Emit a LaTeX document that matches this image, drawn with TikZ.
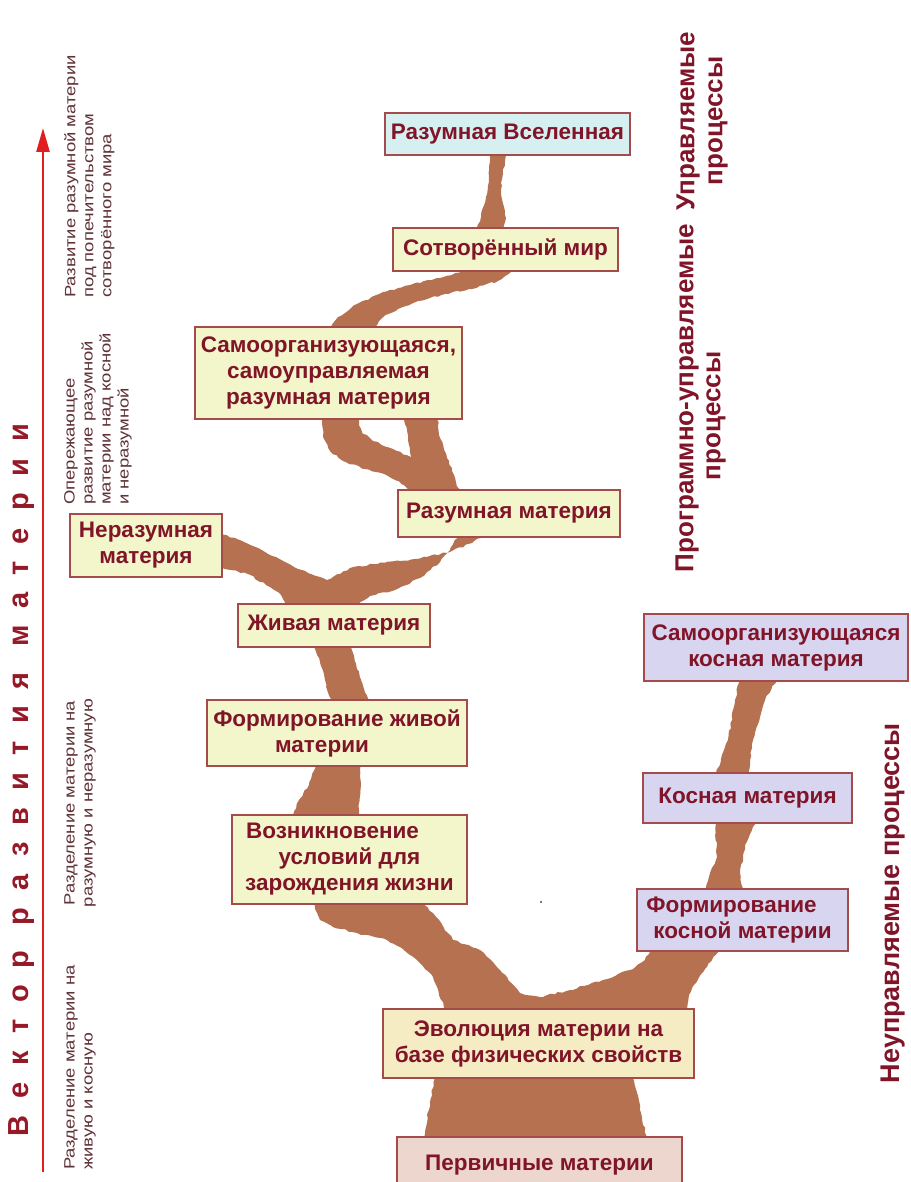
\documentclass[tikz,border=0pt]{standalone}
\usepackage{fontspec}
\setmainfont{Liberation Sans}
\newfontfamily\sidefont[FakeStretch=1.23]{Liberation Sans}
\newfontfamily\vecfont[LetterSpace=59]{Liberation Sans}
\usetikzlibrary{arrows.meta,decorations.pathmorphing}
\definecolor{trunk}{RGB}{181,113,80}
\definecolor{txt}{RGB}{128,20,40}
\definecolor{sidecol}{RGB}{95,50,55}
\definecolor{vec}{RGB}{150,25,40}
\definecolor{arrowred}{RGB}{225,30,30}
\definecolor{boxline}{RGB}{165,75,75}
\definecolor{greenbox}{RGB}{243,246,202}
\definecolor{cyanbox}{RGB}{214,240,242}
\definecolor{lavbox}{RGB}{216,213,240}
\definecolor{beigebox}{RGB}{246,236,196}
\definecolor{pinkbox}{RGB}{236,214,206}
\begin{document}
\begin{tikzpicture}[x=1pt,y=-1pt,
  trunkfill/.style={fill=trunk, draw=none, decorate,
    decoration={random steps, segment length=4pt, amplitude=0.9pt}},
  box/.style={draw=boxline, line width=1.3pt, fill=greenbox, text=txt,
    font=\bfseries\fontsize{22.5}{26}\selectfont, align=center, inner sep=0pt},
  side/.style={rotate=90, text=sidecol, inner sep=0pt,
    font=\sidefont\fontsize{15}{18}\selectfont},
  rlabel/.style={rotate=90, text=txt, inner sep=0pt, align=center,
    font=\bfseries\fontsize{26}{28}\selectfont},
  vecarrow/.style={draw=arrowred, line width=2.6pt,
    -{Triangle[length=24pt,width=13pt]}}]
\useasboundingbox (0,0) rectangle (910,1182);
\clip (0,0) rectangle (910,1182);
\fill[white] (0,0) rectangle (910,1182);

% ---------- trunk ----------
% Universe -> created world
\fill[trunkfill] (490,150) -- (489,177) -- (486,197) -- (481,217) -- (476,232)
  -- (502,232) -- (506,218) -- (504,207) -- (501,190) -- (503,173) -- (507,150) -- cycle;
% created world -> self-organising
\fill[trunkfill] (474,268) -- (440,278) -- (410,285) -- (383,292) -- (357,304)
  -- (338,317) -- (328,330) -- (372,330) -- (382,318) -- (398,309) -- (418,301)
  -- (445,294) -- (472,289) -- (498,281) -- (518,268) -- cycle;
% loop under self-organising
\fill[trunkfill] (322,416) -- (323,437) -- (330,451) -- (343,461) -- (365,469)
  -- (388,476) -- (404,485) -- (410,493) -- (448,493) -- (434,474) -- (414,459)
  -- (393,449) -- (373,441) -- (362,432) -- (357,416) -- cycle;
\fill[trunkfill] (404,416) -- (408,440) -- (411,458) -- (417,474) -- (421,493)
  -- (460,493) -- (454,475) -- (447,458) -- (440,438) -- (437,416) -- cycle;
% fork above living matter
\fill[trunkfill] (219,533) -- (240,540) -- (265,552) -- (287,563) -- (308,573)
  -- (327,580) -- (333,577) -- (350,568) -- (373,564) -- (400,561) -- (427,557)
  -- (452,551) -- (472,543) -- (487,534) -- (459,534) -- (450,550) -- (440,562)
  -- (420,578) -- (395,590) -- (370,596) -- (355,607) -- (287,607) -- (281,595)
  -- (270,587) -- (248,574) -- (219,567) -- cycle;
% living -> forming living
\fill[trunkfill] (314,644) -- (325,680) -- (331,703) -- (370,703) -- (361,680)
  -- (350,644) -- cycle;
% forming living -> conditions
\fill[trunkfill] (316,763) -- (309,785) -- (299,800) -- (292,818) -- (358,818)
  -- (361,785) -- (360,763) -- cycle;
% conditions -> evolution, and the inert branch
\fill[trunkfill] (313,901) -- (320,920) -- (333,927) -- (357,933) -- (387,940)
  -- (400,947) -- (417,960) -- (433,977) -- (446,1012) -- (687,1012)
  -- (689,995) -- (694,985) -- (707,967) -- (721,947) -- (652,947) -- (645,960)
  -- (630,970) -- (603,980) -- (570,990) -- (540,997) -- (520,993)
  -- (500,970) -- (480,950) -- (453,940) -- (433,913) -- (421,901) -- cycle;
% evolution -> primary
\fill[trunkfill] (435,1075) -- (423,1140) -- (647,1140) -- (633,1075) -- cycle;
% inert matter branch
\fill[trunkfill] (715,820) -- (717,857) -- (710,873) -- (705,892) -- (743,892)
  -- (740,873) -- (743,857) -- (745,845) -- (757,820) -- cycle;
\fill[trunkfill] (740,678) -- (735,700) -- (728,740) -- (715,776) -- (748,776)
  -- (753,740) -- (765,700) -- (778,678) -- cycle;
\fill[black!70] (541,902) circle (1.2pt);

% ---------- boxes ----------
\node[box, fill=cyanbox, minimum width=245pt, minimum height=42pt] (uni) at (507.5,134) {Разумная Вселенная};
\node[box, minimum width=225pt, minimum height=43pt] (sotv) at (505.5,249.5) {Сотворённый мир};
\node[box, minimum width=267pt, minimum height=92pt] (samo) at (328.5,373) {Самоорганизующаяся,\\самоуправляемая\\разумная материя};
\node[box, minimum width=152pt, minimum height=63pt] (neraz) at (146,545.5) {Неразумная\\материя};
\node[box, minimum width=222pt, minimum height=47pt] (razum) at (509,513.5) {Разумная материя};
\node[box, minimum width=192pt, minimum height=43pt] (zhiv) at (334,625.5) {Живая материя};
\node[box, minimum width=260pt, minimum height=66pt] (formzh) at (337,733) {Формирование живой\\материи\hspace*{30pt}};
\node[box, minimum width=235pt, minimum height=89pt] (vozn) at (349.5,859.5) {Возникновение\hspace*{34pt}\\условий для\hspace*{24pt}\\зарождения  жизни};
\node[box, fill=beigebox, minimum width=311pt, minimum height=69pt] (evol) at (538.5,1043.5) {Эволюция  материи на\\базе  физических свойств};
\node[box, fill=pinkbox, minimum width=285pt, minimum height=56pt] (perv) at (539.5,1165) {Первичные  материи};
\node[box, fill=lavbox, minimum width=264pt, minimum height=67pt] (samokos) at (776,647.5) {Самоорганизующаяся\\косная материя};
\node[box, fill=lavbox, minimum width=209pt, minimum height=50pt] (kosn) at (747.5,798) {Косная материя};
\node[box, fill=lavbox, minimum width=211pt, minimum height=62pt] (formkos) at (742.5,920) {Формирование\hspace*{22pt}\\косной материи};

% ---------- right labels ----------
\node[rlabel] (upr) at (702,121) {Управляемые\\процессы};
\node[rlabel] (prog) at (687,398) {Программно-управляемые};
\node[rlabel] (prog2) at (716,416) {процессы};
\node[rlabel, font=\bfseries\fontsize{27}{28}\selectfont] (neupr) at (893,903) {Неуправляемые процессы};

% ---------- left side ----------
\node[rotate=90, text=vec, inner sep=0pt,
  font=\vecfont\bfseries\fontsize{29}{30}\selectfont] (title) at (22,780) {Вектор развития материи};
\coordinate (arrS) at (43,1172);
\coordinate (arrE) at (43,128);
\draw[vecarrow] (arrS) -- (arrE);

\node[side, align=left, anchor=north west] (g1) at (64,298) {Развитие разумной материи\\под попечительством\\сотворённого мира};
\node[side, align=left, anchor=north west] (g2) at (64,505) {Опережающее\\развитие разумной\\материи над косной\\и неразумной};
\node[side, align=center, anchor=north] (g3) at (64,803) {Разделение материи на\\разумную и неразумную};
\node[side, align=left, anchor=north west] (g4) at (64,1170) {Разделение материи на\\живую и косную};
\end{tikzpicture}
\end{document}
